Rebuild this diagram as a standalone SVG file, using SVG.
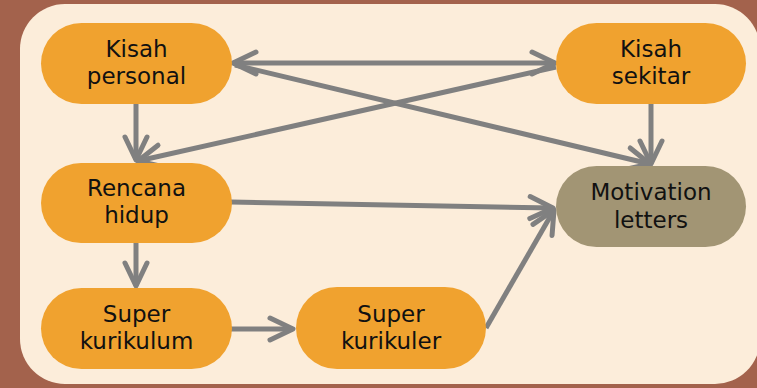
<svg xmlns="http://www.w3.org/2000/svg" width="757" height="388" viewBox="0 0 757 388">
<defs>
<style>
.node{fill:#F0A22F}
.mot{fill:#A29574}
.lbl{font-family:"DejaVu Sans","Open Sans",sans-serif;font-size:23px;fill:#111;text-anchor:middle}
.edge{stroke:#808080;stroke-width:5;fill:none;stroke-linecap:butt}
</style>
<marker id="ah" viewBox="-30 -20 40 40" refX="0" refY="0" markerWidth="40" markerHeight="40" markerUnits="userSpaceOnUse" orient="auto-start-reverse">
<path d="M-23,-11 L0,0 L-23,11" fill="none" stroke="#808080" stroke-width="5" stroke-linecap="round" stroke-linejoin="round"/>
</marker>
</defs>
<rect x="0" y="0" width="757" height="388" fill="#A3624C"/>
<rect x="20" y="4" width="740" height="380" rx="45" ry="45" fill="#FCEDDA"/>
<g id="connectors">
<line class="edge" x1="233" y1="63" x2="555" y2="63" marker-start="url(#ah)" marker-end="url(#ah)"/>
<line class="edge" x1="235" y1="65" x2="650" y2="164" marker-end="url(#ah)"/>
<line class="edge" x1="556" y1="67" x2="138" y2="161" marker-end="url(#ah)"/>
<line class="edge" x1="136" y1="104" x2="136" y2="160" marker-end="url(#ah)"/>
<line class="edge" x1="651" y1="104" x2="651" y2="164" marker-end="url(#ah)"/>
<line class="edge" x1="231" y1="202" x2="553" y2="208" marker-end="url(#ah)"/>
<line class="edge" x1="136" y1="243" x2="136" y2="286" marker-end="url(#ah)"/>
<line class="edge" x1="231" y1="329" x2="293" y2="329" marker-end="url(#ah)"/>
<line class="edge" x1="486" y1="328" x2="554" y2="210" marker-end="url(#ah)"/>
</g>
<g id="kisah-personal">
<rect class="node" x="41" y="23" width="191" height="81" rx="40.5"/>
<text class="lbl" x="136.5" y="57">Kisah</text>
<text class="lbl" x="136.5" y="84">personal</text>
</g>
<g id="kisah-sekitar">
<rect class="node" x="556" y="23" width="190" height="81" rx="40.5"/>
<text class="lbl" x="651" y="57">Kisah</text>
<text class="lbl" x="651" y="84">sekitar</text>
</g>
<g id="rencana-hidup">
<rect class="node" x="41" y="163" width="191" height="80" rx="40"/>
<text class="lbl" x="136.5" y="196">Rencana</text>
<text class="lbl" x="136.5" y="223">hidup</text>
</g>
<g id="motivation-letters">
<rect class="mot" x="556" y="166" width="190" height="81" rx="40.5"/>
<text class="lbl" x="651" y="200">Motivation</text>
<text class="lbl" x="651" y="228">letters</text>
</g>
<g id="super-kurikulum">
<rect class="node" x="41" y="288" width="191" height="81" rx="40.5"/>
<text class="lbl" x="136.5" y="322">Super</text>
<text class="lbl" x="136.5" y="349">kurikulum</text>
</g>
<g id="super-kurikuler">
<rect class="node" x="296" y="287" width="190" height="82" rx="41"/>
<text class="lbl" x="391" y="322">Super</text>
<text class="lbl" x="391" y="349">kurikuler</text>
</g>
</svg>
